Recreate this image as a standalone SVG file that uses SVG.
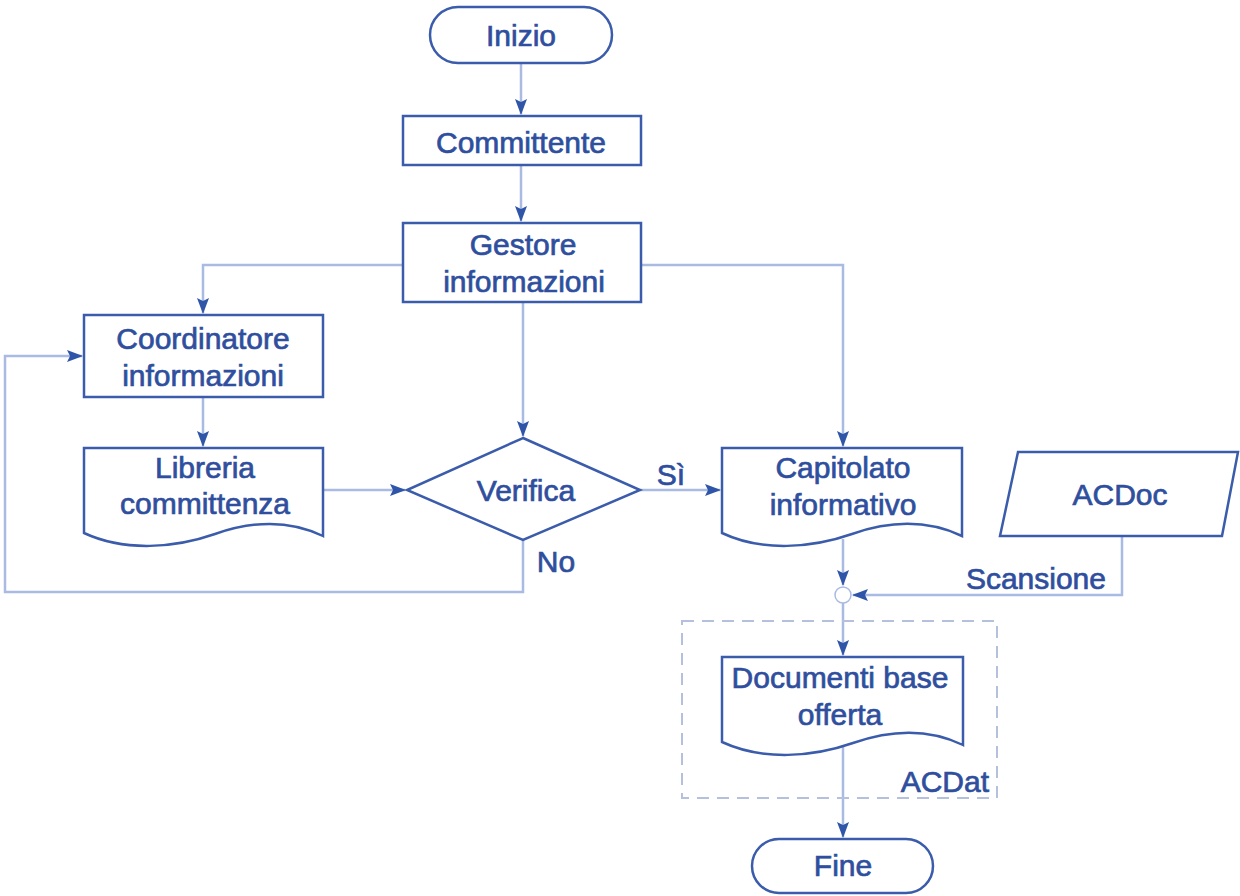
<svg xmlns="http://www.w3.org/2000/svg" width="1240" height="896" viewBox="0 0 1240 896">
<defs>
<marker id="arr" viewBox="0 0 16 12" refX="15" refY="6" markerWidth="16" markerHeight="12" markerUnits="userSpaceOnUse" orient="auto">
<path d="M0,0 L16,6 L0,12 L3,6 Z" fill="#2f55a8"/>
</marker>
<style>
.shape{fill:#fff;stroke:#3a5cab;stroke-width:2.5}
.conn{fill:none;stroke:#a9bbe2;stroke-width:2.5}
.t{font-family:"Liberation Sans",Arial,sans-serif;font-size:30px;fill:#2f4f9e;stroke:#2f4f9e;stroke-width:0.7;text-anchor:middle}
.dash{fill:none;stroke:#b4c0dc;stroke-width:2;stroke-dasharray:12 8}
</style>
</defs>
<rect width="1240" height="896" fill="#fff"/>
<g id="connectors">
<path class="conn" d="M521,63 V114" marker-end="url(#arr)"/>
<path class="conn" d="M521,165 V221" marker-end="url(#arr)"/>
<path class="conn" d="M403,265 H203 V313" marker-end="url(#arr)"/>
<path class="conn" d="M641,265 H843 V446" marker-end="url(#arr)"/>
<path class="conn" d="M523,302 V436" marker-end="url(#arr)"/>
<path class="conn" d="M203,397 V446" marker-end="url(#arr)"/>
<path class="conn" d="M323,490 H405" marker-end="url(#arr)"/>
<path class="conn" d="M640,490 H720" marker-end="url(#arr)"/>
<path class="conn" d="M523,540 V592 H5 V356 H82" marker-end="url(#arr)"/>
<path class="conn" d="M843,539 V585" marker-end="url(#arr)"/>
<path class="conn" d="M1122,536 V595 H853" marker-end="url(#arr)"/>
<path class="conn" d="M843,603 V655" marker-end="url(#arr)"/>
<path class="conn" d="M843,747 V837" marker-end="url(#arr)"/>
</g>
<g id="acdat">
<rect class="dash" x="682" y="621" width="315" height="177"/>
<text class="t" x="989" y="792" style="text-anchor:end">ACDat</text>
</g>
<g id="inizio">
<rect class="shape" x="430" y="7" width="182" height="56" rx="28"/>
<text class="t" x="521" y="46">Inizio</text>
</g>
<g id="committente">
<rect class="shape" x="403" y="116" width="238" height="49"/>
<text class="t" x="521" y="153">Committente</text>
</g>
<g id="gestore">
<rect class="shape" x="403" y="223" width="238" height="79"/>
<text class="t" x="523" y="255">Gestore</text>
<text class="t" x="524" y="292">informazioni</text>
</g>
<g id="coordinatore">
<rect class="shape" x="84" y="315" width="239" height="82"/>
<text class="t" x="203" y="349">Coordinatore</text>
<text class="t" x="203" y="386">informazioni</text>
</g>
<g id="libreria">
<path class="shape" d="M84,448 H323 V536 C290,520 255,520 215,534 C175,548 125,552 84,533 Z"/>
<text class="t" x="205" y="478">Libreria</text>
<text class="t" x="205" y="514">committenza</text>
</g>
<g id="verifica">
<path class="shape" d="M523,438 L640,490 L523,540 L407,490 Z"/>
<text class="t" x="526" y="501">Verifica</text>
</g>
<g id="labels">
<text class="t" x="671" y="485">Sì</text>
<text class="t" x="556" y="572">No</text>
<text class="t" x="1106" y="589" style="text-anchor:end">Scansione</text>
</g>
<g id="capitolato">
<path class="shape" d="M722,448 H962 V536 C928,520 892,520 852,534 C812,548 762,552 722,533 Z"/>
<text class="t" x="843" y="478">Capitolato</text>
<text class="t" x="843" y="515">informativo</text>
</g>
<g id="acdoc">
<path class="shape" d="M1018,452 H1238 L1222,536 H1000 Z"/>
<text class="t" x="1120" y="505">ACDoc</text>
</g>
<g id="merge">
<circle class="shape" cx="843" cy="595" r="8" style="stroke-width:1.5;stroke:#a9bbe2"/>
</g>
<g id="documenti">
<path class="shape" d="M722,657 H963 V745 C930,729 893,729 853,743 C813,757 763,761 722,742 Z"/>
<text class="t" x="840" y="688">Documenti base</text>
<text class="t" x="840" y="725">offerta</text>
</g>
<g id="fine">
<rect class="shape" x="752" y="839" width="181" height="54" rx="27"/>
<text class="t" x="843" y="876">Fine</text>
</g>
</svg>
